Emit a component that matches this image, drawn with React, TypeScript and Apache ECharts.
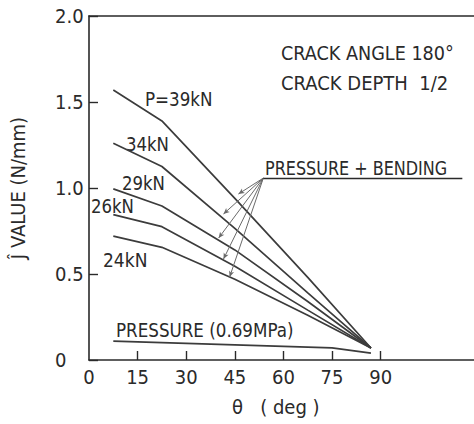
import React, { useEffect, useRef } from "react";
import * as echarts from "echarts";

// angle (deg) at which the bending curves were sampled
const thetas = [7.5, 22.5, 45, 67.5, 87];
const j39 = [1.57, 1.39, 0.94, 0.48, 0.07];
const j34 = [1.26, 1.125, 0.765, 0.39, 0.07];
const j29 = [0.995, 0.895, 0.64, 0.34, 0.07];
const j26 = [0.845, 0.775, 0.545, 0.29, 0.07];
const j24 = [0.72, 0.655, 0.47, 0.26, 0.07];
const pressureTheta = [7.5, 75, 87];
const pressureJ = [0.11, 0.07, 0.04];

const xTicks = [15, 30, 45, 60, 75, 90];
const xLabels = [0, 15, 30, 45, 60, 75, 90];

// leader line annotation (data coords)
const leaderApex = [53.8, 1.058];
const leaderEnd = [115.2, 1.058];
const leaderTips = [
  [46.1, 0.965],
  [41.5, 0.849],
  [40.0, 0.709],
  [41.5, 0.587],
  [43.4, 0.483],
];

const FONT = "'Liberation Sans Narrow', 'DejaVu Sans Condensed', 'Arial Narrow', sans-serif";
const INK = "#2a2a2a";
const LINE = "#3c3c3c";

const toPairs = (xs: number[], ys: number[]) => xs.map((x, i) => [x, ys[i]]);

const label = (text: string, x: number, y: number, scaleX = 1) => ({
  type: "text",
  x,
  y,
  scaleX,
  style: {
    text,
    font: `20px ${FONT}`,
    fill: INK,
    textVerticalAlign: "middle",
    verticalAlign: "middle",
  },
});

export default function App() {
  const ref = useRef<HTMLDivElement>(null);
  useEffect(() => {
    if (!ref.current) return;
    const chart = echarts.init(ref.current, null, { renderer: "svg" });
    const bendSeries = [j39, j34, j29, j26, j24].map((ys, i) => ({
      type: "line",
      data: toPairs(thetas, ys),
      symbol: "none",
      lineStyle: { color: LINE, width: 1.7 },
      z: 3,
      ...(i === 4
        ? {
            markLine: {
              silent: true,
              animation: false,
              symbol: ["none", "arrow"],
              symbolSize: [4, 6],
              label: { show: false },
              lineStyle: { color: "#6a6a6a", width: 1, type: "solid" },
              data: leaderTips.map((t) => [{ coord: leaderApex }, { coord: t }]),
            },
          }
        : {}),
    }));
    chart.setOption({
      animation: false,
      grid: { left: 86, top: 16, right: 0, bottom: 64, containLabel: false },
      xAxis: [
        {
          type: "value",
          min: 0,
          max: 118.8,
          axisLine: { show: true, lineStyle: { color: INK, width: 1.6 } },
          axisTick: {
            show: true,
            inside: true,
            length: 9,
            customValues: xTicks,
            lineStyle: { color: INK, width: 1.4 },
          },
          axisLabel: {
            customValues: xLabels,
            color: INK,
            fontFamily: FONT,
            fontSize: 20,
            margin: 7,
          },
          splitLine: { show: false },
        },
        {
          type: "value",
          position: "top",
          min: 0,
          max: 118.8,
          axisLine: { show: true, lineStyle: { color: INK, width: 1.6 } },
          axisTick: { show: false },
          axisLabel: { show: false },
          splitLine: { show: false },
        },
      ],
      yAxis: {
        type: "value",
        min: 0,
        max: 2,
        interval: 0.5,
        name: "Ĵ VALUE (N/mm)",
        nameLocation: "middle",
        nameRotate: 90,
        nameGap: 61,
        nameTextStyle: { color: INK, fontFamily: FONT, fontSize: 20 },
        axisLine: { show: true, lineStyle: { color: INK, width: 1.6 } },
        axisTick: { show: true, inside: true, length: 9, lineStyle: { color: INK, width: 1.4 } },
        axisLabel: {
          color: INK,
          fontFamily: FONT,
          fontSize: 20,
          align: "left",
          margin: 34,
          formatter: (v: number) => (v === 0 ? "0" : v.toFixed(1)),
        },
        splitLine: { show: false },
      },
      series: [
        ...bendSeries,
        {
          type: "line",
          data: toPairs(pressureTheta, pressureJ),
          symbol: "none",
          lineStyle: { color: LINE, width: 1.7 },
          z: 3,
          markLine: {
            silent: true,
            animation: false,
            symbol: ["none", "none"],
            label: { show: false },
            lineStyle: { color: INK, width: 1.4, type: "solid" },
            data: [[{ coord: leaderApex }, { coord: leaderEnd }]],
          },
        },
      ],
      graphic: [
        label("CRACK ANGLE 180°", 281, 53, 0.98),
        label("CRACK DEPTH  1/2", 281, 83, 1.0),
        label("PRESSURE + BENDING", 265, 168, 0.89),
        label("P=39kN", 145, 99, 0.93),
        label("34kN", 126, 144, 0.92),
        label("29kN", 122, 183, 0.92),
        label("26kN", 91, 206, 0.92),
        label("24kN", 103, 260, 0.95),
        label("PRESSURE (0.69MPa)", 116, 330, 0.93),
        label("θ   ( deg )", 232, 407, 1.0),
      ],
    });
    return () => chart.dispose();
  }, []);
  return (
    <div
      ref={ref}
      style={{ position: "fixed", left: 0, top: 0, width: 474, height: 424, background: "#fff" }}
    />
  );
}
